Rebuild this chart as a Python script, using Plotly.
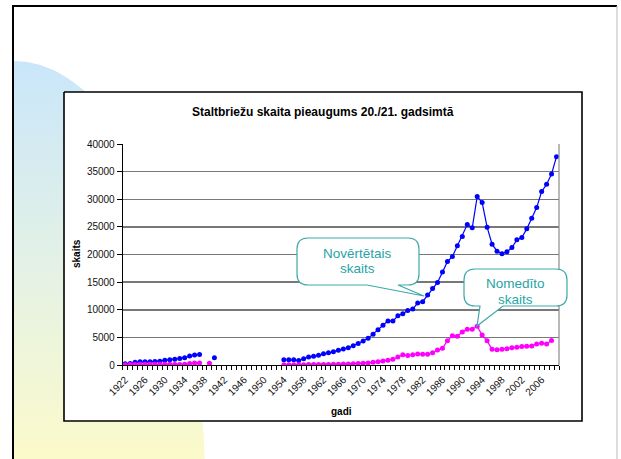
import numpy as np
import plotly.graph_objects as go

# ---------------- data ----------------
years = list(range(1922, 2010))
tick_years = list(range(1922, 2010, 4))
tick_labels = [str(y) for y in tick_years]

# Novērtētais skaits (estimated count)
est_1922_1937 = [240, 270, 480, 570, 570, 570, 630, 690, 840, 960, 1020, 1180, 1330, 1620, 1810, 1900]
est_1938_1953 = [None, None, 1330] + [None] * 13
est_1954_2009 = [950, 950, 950, 820, 1150, 1450, 1570, 1750, 2020, 2230, 2380, 2680, 2890, 3130,
                 3500, 3890, 4340, 4820, 5550, 6400, 7200, 7980, 7950, 8920, 9280, 9880, 10120,
                 11200, 11450, 12650, 13860, 14940, 16810, 18730, 19640, 21570, 23250, 25420,
                 24820, 30480, 29400, 24940, 21870, 20600, 20120, 20480, 21270, 22650, 23070,
                 24640, 26570, 28490, 31390, 32710, 34580, 37710]
estimated = est_1922_1937 + est_1938_1953 + est_1954_2009

# Nomedīto skaits (hunted count)
hunt_1922_1937 = [50, 80, 100, 120, 120, 120, 120, 120, 130, 120, 100, 100, 130, 250, 350, 350]
hunt_1938_1953 = [None, 300] + [None] * 14
hunt_1954_2009 = [50, 50, 50, 60, 60, 70, 80, 90, 100, 110, 130, 150, 170, 200, 230, 260, 300,
                  380, 480, 600, 720, 840, 1050, 1450, 1870, 1720, 1870, 1990, 1960, 1930, 2230,
                  2710, 3040, 4400, 5300, 5200, 5960, 6480, 6480, 7000, 5420, 4370, 2830, 2740,
                  2830, 2920, 3100, 3200, 3340, 3400, 3460, 3820, 3950, 3820, 4430, None]
hunted = hunt_1922_1937 + hunt_1938_1953 + hunt_1954_2009

# ---------------- figure ----------------
W, H = 621, 459
FONT = "Liberation Sans, Arial, sans-serif"
TEAL_TXT = "#27A4A4"
TEAL_LINE = "#3DA9A9"

fig = go.Figure()

# decorative slide shape with vertical gradient (pixel coordinates on hidden axes)
rx, ry = 191.0, 426.0
cx, cy = 14.0, 61.0 + ry
tmax = np.arccos((cy - H) / ry)
t = np.linspace(0, tmax, 80)
sx = list(cx + rx * np.sin(t)) + [cx + rx * np.sin(tmax), cx, cx]
sy = list(cy - ry * np.cos(t)) + [H, H, 61.0]
fig.add_trace(go.Scatter(
    x=sx, y=sy, mode="lines", fill="toself", line=dict(width=0),
    fillgradient=dict(type="vertical", start=61, stop=H,
                      colorscale=[[0, "#C9E6FA"], [0.5, "#E3F1E6"], [1, "#FBFACB"]]),
    hoverinfo="skip", showlegend=False, xaxis="x", yaxis="y"))

# chart box
bx0, by0, bx1, by1 = 64, 92, 582, 421
fig.add_trace(go.Scatter(
    x=[bx0, bx1, bx1, bx0, bx0], y=[by0, by0, by1, by1, by0], mode="lines",
    fill="toself", fillcolor="white", line=dict(color="black", width=1.6),
    hoverinfo="skip", showlegend=False, xaxis="x", yaxis="y"))

# data series
fig.add_trace(go.Scatter(
    x=years, y=estimated, mode="lines+markers", name="Novērtētais skaits",
    line=dict(color="#0000FF", width=1.2), marker=dict(color="#0000FF", size=5),
    connectgaps=False, showlegend=False, xaxis="x2", yaxis="y2"))
fig.add_trace(go.Scatter(
    x=years, y=hunted, mode="lines+markers", name="Nomedīto skaits",
    line=dict(color="#FF00FF", width=1.2), marker=dict(color="#FF00FF", size=5),
    connectgaps=False, showlegend=False, xaxis="x2", yaxis="y2"))

px0, px1 = 122.7, 559.0
py_top, py_bot = 144.0, 365.0


def callout(x0, y0, x1, y1, r, base_l, base_r, tip):
    return (f"M {x0+r},{y0} L {x1-r},{y0} Q {x1},{y0} {x1},{y0+r} L {x1},{y1-r} "
            f"Q {x1},{y1} {x1-r},{y1} L {base_r},{y1} L {tip[0]},{tip[1]} L {base_l},{y1} "
            f"L {x0+r},{y1} Q {x0},{y1} {x0},{y1-r} L {x0},{y0+r} Q {x0},{y0} {x0+r},{y0} Z")


shapes = [
    # slide border
    dict(type="line", xref="x", yref="y", x0=13, x1=13, y0=5, y1=H, line=dict(color="black", width=2)),
    dict(type="line", xref="x", yref="y", x0=12, x1=617, y0=6, y1=6, line=dict(color="black", width=2)),
    dict(type="line", xref="x", yref="y", x0=617, x1=617, y0=6, y1=H, line=dict(color="#BBBBBB", width=1)),
    # right border of plot area
    dict(type="line", xref="x", yref="y", x0=px1, x1=px1, y0=py_top, y1=py_bot,
         line=dict(color="#8A8A8A", width=1.2)),
    # callouts
    dict(type="path", xref="x", yref="y", layer="above",
         path=callout(297, 238, 419, 285, 11, 367, 398, (424, 296)),
         fillcolor="white", line=dict(color=TEAL_LINE, width=1.2)),
    dict(type="path", xref="x", yref="y", layer="above",
         path=callout(464, 269, 567, 306, 11, 480, 503, (477, 326)),
         fillcolor="white", line=dict(color=TEAL_LINE, width=1.2)),
]

annotations = [
    dict(text="<b>Staltbriežu skaita pieaugums 20./21. gadsimtā</b>", x=322.5, y=111.5,
         xref="x", yref="y", showarrow=False, font=dict(size=12, color="black", family=FONT)),
    dict(text="<b>skaits</b>", x=76, y=254, xref="x", yref="y", textangle=-90, showarrow=False,
         font=dict(size=10, color="black", family=FONT)),
    dict(text="<b>gadi</b>", x=341.5, y=411, xref="x", yref="y", showarrow=False,
         font=dict(size=10, color="black", family=FONT)),
    dict(text="Novērtētais", x=357.5, y=253, xref="x", yref="y", showarrow=False,
         font=dict(size=13.5, color=TEAL_TXT, family=FONT)),
    dict(text="skaits", x=357.5, y=268, xref="x", yref="y", showarrow=False,
         font=dict(size=13.5, color=TEAL_TXT, family=FONT)),
    dict(text="Nomedīto", x=515.5, y=283.5, xref="x", yref="y", showarrow=False,
         font=dict(size=13.5, color=TEAL_TXT, family=FONT)),
    dict(text="skaits", x=515.5, y=299.5, xref="x", yref="y", showarrow=False,
         font=dict(size=13.5, color=TEAL_TXT, family=FONT)),
]

fig.update_layout(
    template="none",
    width=W, height=H, margin=dict(l=0, r=0, t=0, b=0, pad=0, autoexpand=False),
    paper_bgcolor="white", plot_bgcolor="white",
    font=dict(family=FONT, size=10, color="#111111"),
    showlegend=False,
    xaxis=dict(domain=[0, 1], range=[0, W], visible=False, fixedrange=True, automargin=False),
    yaxis=dict(domain=[0, 1], range=[H, 0], visible=False, fixedrange=True, automargin=False),
    xaxis2=dict(domain=[px0 / W, px1 / W], anchor="y2", range=[1921.5, 2009.5], automargin=False,
                tickmode="array", tickvals=tick_years, ticktext=tick_labels, tickangle=-45,
                ticks="outside", ticklen=4, tickcolor="rgba(0,0,0,0)",
                minor=dict(ticks="outside", ticklen=4, tickcolor="black", tick0=1921.5, dtick=1,
                           showgrid=False),
                showline=True, linecolor="black", linewidth=1, showgrid=False, zeroline=False,
                tickfont=dict(size=10, family=FONT, color="#111111")),
    yaxis2=dict(domain=[1 - py_bot / H, 1 - py_top / H], anchor="x2", range=[0, 40000],
                automargin=False, tickformat="d",
                tickmode="linear", tick0=0, dtick=5000, ticks="outside", ticklen=5,
                tickcolor="black", showline=True, linecolor="black", linewidth=1,
                showgrid=True, gridcolor="#787878", gridwidth=1.5, zeroline=False,
                tickfont=dict(size=10, family=FONT, color="#111111")),
    shapes=shapes,
    annotations=annotations,
)

fig.write_html(
    "out.html",
    config={"displayModeBar": False, "staticPlot": True},
    post_script="document.body.style.margin='0';document.body.style.overflow='hidden';",
)
